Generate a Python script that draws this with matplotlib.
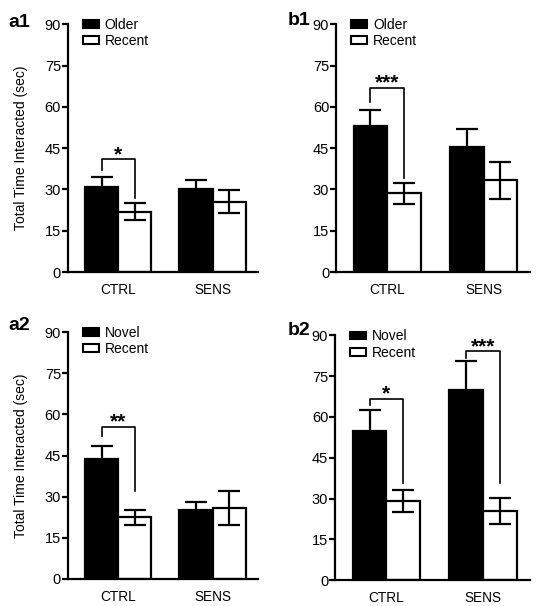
import matplotlib
matplotlib.use("Agg")
import matplotlib.pyplot as plt
from matplotlib.patches import Patch
import numpy as np

plt.rcParams['font.family'] = ['Liberation Sans', 'DejaVu Sans']

groups = ["CTRL", "SENS"]

# panel a1 / b1: Older vs Recent, a2 / b2: Novel vs Recent
a1_first = [31.0, 30.0]
a1_first_err = [3.5, 3.3]
a1_recent = [22.0, 25.5]
a1_recent_err = [3.0, 4.2]

b1_first = [53.0, 45.3]
b1_first_err = [6.0, 6.5]
b1_recent = [28.6, 33.3]
b1_recent_err = [3.9, 6.6]

a2_first = [43.8, 25.0]
a2_first_err = [4.8, 3.2]
a2_recent = [22.5, 26.0]
a2_recent_err = [2.8, 6.2]

b2_first = [55.0, 70.0]
b2_first_err = [7.4, 10.4]
b2_recent = [29.0, 25.5]
b2_recent_err = [4.0, 4.7]

# significance brackets: (group index, left end, top, right end, stars)
a1_sig = [(0, 37.0, 41.0, 27.0, "*")]
b1_sig = [(0, 61.7, 67.0, 34.0, "***")]
a2_sig = [(0, 52.2, 55.4, 32.0, "**")]
b2_sig = [(0, 64.5, 66.7, 35.7, "*"), (1, 81.7, 84.1, 35.7, "***")]

yticks = [0, 15, 30, 45, 60, 75, 90]
ylabel = "Total Time Interacted (sec)"

fig = plt.figure(figsize=(5.44, 6.06), dpi=100)

panels = [
    ("a1", [0.125, 0.551, 0.349, 0.409], a1_first, a1_first_err, a1_recent, a1_recent_err, a1_sig, "Older", True),
    ("b1", [0.618, 0.551, 0.356, 0.409], b1_first, b1_first_err, b1_recent, b1_recent_err, b1_sig, "Older", False),
    ("a2", [0.125, 0.0446, 0.349, 0.4074], a2_first, a2_first_err, a2_recent, a2_recent_err, a2_sig, "Novel", True),
    ("b2", [0.616, 0.0424, 0.358, 0.4043], b2_first, b2_first_err, b2_recent, b2_recent_err, b2_sig, "Novel", False),
]
label_pos = {"a1": (0.016, 0.977), "b1": (0.529, 0.98), "a2": (0.016, 0.477), "b2": (0.529, 0.469)}

w = 0.35
x = np.arange(len(groups))
lw = 1.6

for name, rect, first, first_err, recent, recent_err, sigs, first_name, show_ylabel in panels:
    ax = fig.add_axes(rect)
    ax.bar(x - w / 2, first, w, color="black", edgecolor="black", linewidth=lw, zorder=2)
    ax.bar(x + w / 2, recent, w, color="white", edgecolor="black", linewidth=lw, zorder=2)
    ax.errorbar(x - w / 2, first, yerr=first_err, fmt="none", ecolor="black",
                elinewidth=lw, capsize=8, capthick=lw, zorder=3)
    ax.errorbar(x + w / 2, recent, yerr=recent_err, fmt="none", ecolor="black",
                elinewidth=lw, capsize=8, capthick=lw, zorder=3)

    for g, yl, yt, yr, stars in sigs:
        xl, xr = g - w / 2, g + w / 2
        ax.plot([xl, xl, xr, xr], [yl, yt, yt, yr], color="black", lw=1.2, zorder=3)
        ax.text(g, yt - 0.3, stars, ha="center", va="baseline", fontsize=15, fontweight="bold")

    ax.set_xlim(-0.53, 1.48)
    ax.set_ylim(0, 90)
    ax.set_yticks(yticks)
    ax.set_xticks(x)
    ax.set_xticklabels(groups)
    ax.tick_params(axis="x", length=0, pad=8, labelsize=9.8)
    ax.tick_params(axis="y", length=4.5, width=lw, pad=0.5, labelsize=10.5)
    for s in ["top", "right"]:
        ax.spines[s].set_visible(False)
    for s in ["left", "bottom"]:
        ax.spines[s].set_linewidth(lw)
    if show_ylabel:
        ax.set_ylabel(ylabel, fontsize=10, labelpad=12)

    handles = [Patch(facecolor="black", edgecolor="black", linewidth=1.5, label=first_name),
               Patch(facecolor="white", edgecolor="black", linewidth=1.5, label="Recent")]
    ax.legend(handles=handles, loc="upper left", bbox_to_anchor=(0.079, 1.024), frameon=False,
              fontsize=10, handlelength=1.15, handleheight=0.5, handletextpad=0.4,
              labelspacing=0.15, borderpad=0, borderaxespad=0)

    lx, ly = label_pos[name]
    fig.text(lx, ly, name, ha="left", va="top", fontsize=14, fontweight="bold")

fig.savefig("out.png", dpi=100)
